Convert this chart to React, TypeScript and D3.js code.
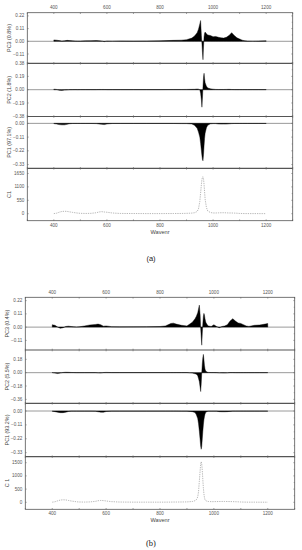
import React from "react";
import * as d3 from "d3";

// ---------- data ----------
const waveA = [400,410,420,430,440,450,460,470,480,490,500,520,540,560,570,580,590,600,620,650,700,750,800,850,880,900,920,930,940,945,950,953,956,958,960,962,964,966,968,970,975,980,990,1000,1010,1020,1030,1040,1050,1060,1070,1080,1090,1100,1110,1120,1130,1150,1170,1200];
const pc3A = [0.012,0.010,0.006,0.002,0.004,0.008,0.006,0.004,0.003,0.002,0.002,0.004,0.005,0.006,0.005,0.003,-0.003,0.002,0.001,0.003,0.002,0.003,0.004,0.008,0.010,0.014,0.028,0.045,0.075,0.105,0.150,0.180,0.050,-0.020,-0.100,-0.160,-0.050,0.040,0.070,0.080,0.065,0.055,0.050,0.040,0.042,0.035,0.030,0.028,0.035,0.050,0.075,0.050,0.030,0.020,0.010,0.004,0.002,0.001,0.002,0.004];
const pc2A = [0.008,0.004,-0.008,-0.010,-0.006,-0.003,0.001,0.001,0.002,0.001,0.002,0.002,0.002,0.002,0.003,0.003,0.003,0.002,0.002,0.002,0.002,0.002,0.002,0.003,0.003,0.004,0.005,0.006,0.010,0.008,0.000,-0.050,-0.150,-0.250,-0.120,0.050,0.180,0.235,0.160,0.100,0.050,0.025,0.012,0.008,0.004,0.003,0.003,0.003,0.004,0.005,0.003,0.002,0.002,0.002,0.002,0.002,0.002,0.002,0.002,0.002];
const pc1A = [-0.002,-0.005,-0.010,-0.012,-0.012,-0.008,-0.003,-0.001,-0.001,-0.001,-0.001,-0.001,-0.001,-0.002,-0.005,-0.008,-0.010,-0.005,-0.001,-0.001,-0.001,-0.001,-0.001,-0.001,-0.002,-0.002,-0.005,-0.015,-0.040,-0.070,-0.110,-0.160,-0.220,-0.260,-0.290,-0.300,-0.250,-0.180,-0.120,-0.080,-0.035,-0.015,-0.004,-0.002,-0.002,-0.005,-0.006,-0.006,-0.006,-0.004,-0.002,-0.001,-0.001,-0.001,-0.001,-0.001,-0.001,-0.001,-0.001,-0.001];
const c1A = [5,20,60,90,100,95,75,55,40,25,15,10,15,40,70,85,70,60,30,10,8,5,5,8,10,15,25,40,90,200,500,850,1200,1400,1500,1520,1420,1200,900,600,250,110,50,30,30,35,40,40,35,30,30,25,20,10,8,6,5,5,4,3];

const waveB = [400,410,420,430,440,450,460,470,480,490,500,520,540,560,570,580,590,600,620,650,700,750,800,820,840,850,860,880,900,920,930,935,940,943,946,949,951,953,955,957,959,961,963,965,967,970,975,980,990,1000,1010,1020,1030,1040,1050,1060,1070,1080,1090,1100,1110,1120,1130,1150,1170,1190,1200];
const pc3B = [0.020,0.015,0.000,-0.010,-0.005,0.005,0.008,0.005,0.002,0.001,0.002,0.010,0.018,0.022,0.025,0.020,0.008,0.010,0.004,0.002,0.003,0.004,0.005,0.010,0.030,0.033,0.025,0.015,0.010,0.040,0.070,0.090,0.120,0.150,0.183,0.100,-0.010,-0.080,-0.150,-0.050,0.030,0.090,0.114,0.100,0.070,0.040,0.020,0.010,0.005,0.020,0.005,-0.005,0.005,0.010,0.020,0.050,0.070,0.050,0.035,0.030,0.020,0.010,0.006,0.015,0.018,0.025,0.030];
const pc2B = [0.002,-0.005,-0.012,-0.005,0.003,0.006,0.005,0.003,0.002,0.001,0.001,0.001,0.001,0.001,-0.002,-0.004,0.002,0.004,0.002,0.002,0.002,0.002,0.002,0.002,0.002,0.002,0.002,0.002,0.002,-0.005,-0.015,-0.020,-0.040,-0.080,-0.120,-0.200,-0.255,-0.150,0.000,0.120,0.200,0.247,0.180,0.100,0.050,0.020,0.008,0.004,0.002,0.002,0.001,-0.002,-0.003,-0.004,-0.002,0.002,0.002,0.001,0.001,0.001,0.001,0.001,0.001,0.001,0.001,0.001,0.001];
const pc1B = [-0.002,-0.005,-0.010,-0.013,-0.013,-0.010,-0.004,-0.001,-0.001,-0.001,-0.001,-0.001,-0.001,-0.002,-0.006,-0.009,-0.010,-0.004,-0.001,-0.001,-0.001,-0.001,-0.001,-0.001,-0.001,-0.001,-0.001,-0.002,-0.002,-0.005,-0.012,-0.030,-0.060,-0.100,-0.160,-0.230,-0.280,-0.303,-0.280,-0.220,-0.160,-0.110,-0.070,-0.045,-0.025,-0.010,-0.004,-0.002,-0.002,-0.002,-0.002,-0.005,-0.006,-0.006,-0.005,-0.003,-0.001,-0.001,-0.001,-0.001,-0.001,-0.001,-0.001,-0.001,-0.001,-0.001,-0.001];
const c1B = [5,20,55,85,95,90,70,50,35,20,12,8,15,35,60,70,65,50,25,10,6,5,5,6,8,10,10,12,15,30,60,100,200,400,800,1200,1450,1538,1450,1200,850,550,320,180,100,60,40,30,25,25,28,30,32,32,30,28,25,22,18,12,8,6,5,5,4,4,3];

const xTicks = [400, 600, 800, 1000, 1200];
const xMinor = [300, 400, 500, 600, 700, 800, 900, 1000, 1100, 1200, 1300];

const pc3TicksA = [0.22, 0.11, 0, -0.11];
const pc2TicksA = [0.38, 0.19, 0, -0.19, -0.38];
const pc1Ticks = [0, -0.11, -0.22, -0.33];
const c1TicksA = [0, 550, 1100, 1650];
const pc3TicksB = [0.22, 0.11, 0, -0.11];
const pc2TicksB = [0.18, 0, -0.18, -0.36];
const c1TicksB = [0, 500, 1000, 1500];

const labelsA = ["PC3 (0.8%)", "PC2 (1.8%)", "PC1 (97.1%)", "C1"];
const labelsB = ["PC3 (0.4%)", "PC2 (5.5%)", "PC1 (93.2%)", "C 1"];

type Panel = {
  top: number; bottom: number; domain: [number, number];
  ticks: number[]; fmt: (v: number) => string; label: string;
  values: number[]; kind: "area" | "line";
};

const f2 = (v: number) => (v === 0 ? "0.00" : d3.format(".2f")(v));
const f0 = (v: number) => d3.format("d")(v);

function Figure({ x0, x1, topLabelY, waves, panels, caption, captionY, serif }: {
  x0: number; x1: number; topLabelY: number; waves: number[]; panels: Panel[];
  caption: string; captionY: number; serif?: boolean;
}) {
  const x = d3.scaleLinear().domain([300, 1300]).range([x0, x1]);
  const frameTop = panels[0].top;
  const frameBottom = panels[panels.length - 1].bottom;
  const grey = "#666";
  return (
    <g>
      {xTicks.map((t) => (
        <text key={"tt" + t} x={x(t)} y={topLabelY} fontSize={4.6} fill="#555" textAnchor="middle" fontFamily="Liberation Sans, Arial, sans-serif">{t}</text>
      ))}
      {panels.map((p, i) => {
        const y = d3.scaleLinear().domain(p.domain).range([p.bottom, p.top]);
        const pts = waves.map((w, k) => [w, p.values[k]] as [number, number]);
        const area = d3.area<[number, number]>().x((d) => x(d[0])).y0(y(0)).y1((d) => y(d[1]));
        const line = d3.line<[number, number]>().x((d) => x(d[0])).y((d) => y(d[1]));
        const minorY = d3.range(p.ticks.length - 1).map((k) => (p.ticks[k] + p.ticks[k + 1]) / 2);
        return (
          <g key={i}>
            <defs>
              <clipPath id={`clip-${caption}-${i}`}>
                <rect x={x0} y={p.top} width={x1 - x0} height={p.bottom - p.top} />
              </clipPath>
            </defs>
            {p.kind === "area" && (
              <line x1={x0} x2={x1} y1={y(0)} y2={y(0)} stroke="#9a9a9a" strokeWidth={1} />
            )}
            <g clipPath={`url(#clip-${caption}-${i})`}>
              {p.kind === "area" ? (
                <path d={area(pts) || ""} fill="#000" stroke="#000" strokeWidth={0.4} />
              ) : (
                <path d={line(pts) || ""} fill="none" stroke="#9a9a9a" strokeWidth={0.7} strokeDasharray="1.3,1" />
              )}
            </g>
            {i > 0 && (
              <line x1={x0} x2={x1} y1={p.top} y2={p.top} stroke="#555" strokeWidth={1.2} />
            )}
            {p.ticks.map((t) => (
              <g key={"yt" + t}>
                <line x1={x0} x2={x0 + 1.5} y1={y(t)} y2={y(t)} stroke={grey} strokeWidth={0.5} />
                <line x1={x1} x2={x1 - 1.5} y1={y(t)} y2={y(t)} stroke={grey} strokeWidth={0.5} />
                <text x={x0 - 3} y={y(t) + 1.6} fontSize={4.6} fill="#555" textAnchor="end" fontFamily="Liberation Sans, Arial, sans-serif">{p.fmt(t)}</text>
              </g>
            ))}
            {minorY.map((t) => (
              <g key={"ym" + t}>
                <line x1={x1} x2={x1 - 1} y1={y(t)} y2={y(t)} stroke={grey} strokeWidth={0.5} />
              </g>
            ))}
            {xMinor.map((t) => (
              <g key={"xm" + t}>
                <line x1={x(t)} x2={x(t)} y1={p.top} y2={p.top + 1.3} stroke={grey} strokeWidth={0.6} />
                <line x1={x(t)} x2={x(t)} y1={p.bottom} y2={p.bottom - 1.3} stroke={grey} strokeWidth={0.6} />
              </g>
            ))}
            <text
              transform={`translate(${x0 - 16},${(p.top + p.bottom) / 2}) rotate(-90)`}
              fontSize={5.4} fill="#444" textAnchor="middle" fontFamily="Liberation Sans, Arial, sans-serif"
            >{p.label}</text>
          </g>
        );
      })}
      <rect x={x0} y={frameTop} width={x1 - x0} height={frameBottom - frameTop} fill="none" stroke="#555" strokeWidth={0.8} />
      {xTicks.map((t) => (
        <text key={"bt" + t} x={x(t)} y={frameBottom + 6} fontSize={4.6} fill="#555" textAnchor="middle" fontFamily="Liberation Sans, Arial, sans-serif">{t}</text>
      ))}
      <text x={x(800)} y={frameBottom + 13} fontSize={5.6} fill="#444" textAnchor="middle" fontFamily="Liberation Sans, Arial, sans-serif">Wavenr</text>
      <text x={151} y={captionY} fontSize={serif ? 8.5 : 7.5} fill="#222" textAnchor="middle"
        fontFamily={serif ? "Liberation Serif, Times New Roman, serif" : "Liberation Sans, Arial, sans-serif"}>{caption}</text>
    </g>
  );
}

export default function App() {
  const panelsA: Panel[] = [
    { top: 12.7, bottom: 63.3, domain: [-0.1906, 0.2477], ticks: pc3TicksA, fmt: f2, label: labelsA[0], values: pc3A, kind: "area" },
    { top: 63.3, bottom: 116.5, domain: [-0.383, 0.377], ticks: pc2TicksA, fmt: f2, label: labelsA[1], values: pc2A, kind: "area" },
    { top: 116.5, bottom: 168.3, domain: [-0.36, 0.055], ticks: pc1Ticks, fmt: f2, label: labelsA[2], values: pc1A, kind: "area" },
    { top: 168.3, bottom: 220.7, domain: [-287, 1863], ticks: c1TicksA, fmt: f0, label: labelsA[3], values: c1A, kind: "line" },
  ];
  const panelsB: Panel[] = [
    { top: 297.3, bottom: 350, domain: [-0.19, 0.2475], ticks: pc3TicksB, fmt: f2, label: labelsB[0], values: pc3B, kind: "area" },
    { top: 350, bottom: 403.3, domain: [-0.413, 0.306], ticks: pc2TicksB, fmt: f2, label: labelsB[1], values: pc2B, kind: "area" },
    { top: 403.3, bottom: 456.7, domain: [-0.362, 0.061], ticks: pc1Ticks, fmt: f2, label: labelsB[2], values: pc1B, kind: "area" },
    { top: 456.7, bottom: 509.3, domain: [-265, 1727], ticks: c1TicksB, fmt: f0, label: labelsB[3], values: c1B, kind: "line" },
  ];
  return (
    <svg width={302} height={550} style={{ position: "absolute", left: 0, top: 0, background: "#fff" }}>
      <rect width={302} height={550} fill="#fff" />
      <Figure x0={27.3} x1={292.7} topLabelY={8.5} waves={waveA} panels={panelsA} caption="(a)" captionY={261} />
      <Figure x0={25.3} x1={294.7} topLabelY={294} waves={waveB} panels={panelsB} caption="(b)" captionY={546} serif />
    </svg>
  );
}
